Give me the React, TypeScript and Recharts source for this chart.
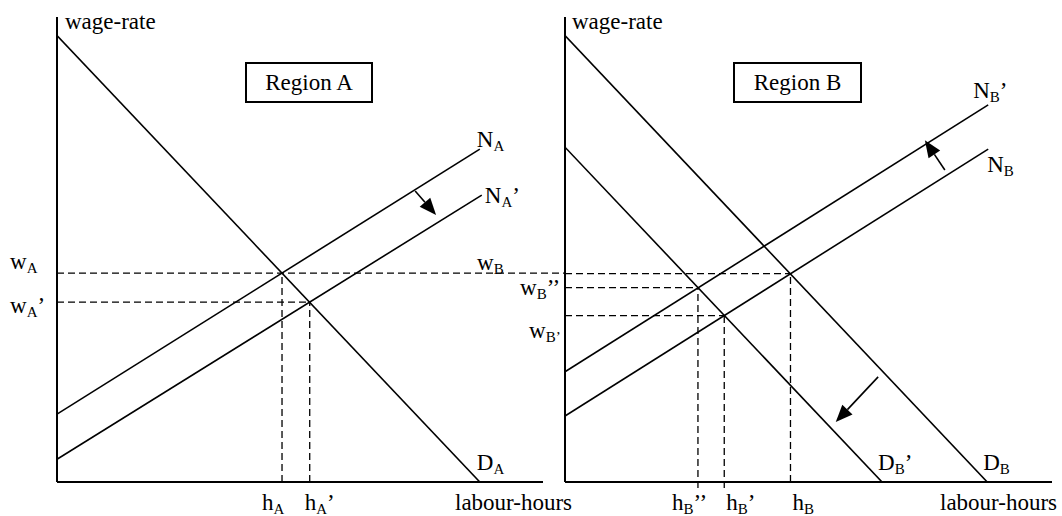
import React from 'react';
import { LineChart, Line, XAxis, YAxis, ReferenceLine, ReferenceDot } from 'recharts';

const FONT = '"Liberation Serif", "Times New Roman", Times, serif';

// both panels: x = labour-hours 0-100, y = wage-rate 0-100
const demandA = [{ x: 0, y: 96 }, { x: 87, y: 0 }];
const supplyA = [{ x: 0, y: 14.6 }, { x: 87, y: 71.6 }];
const supplyA2 = [{ x: 0, y: 4.9 }, { x: 87.4, y: 61.7 }];

const demandB = [{ x: 0, y: 96 }, { x: 86.7, y: 0 }];
const demandB2 = [{ x: 0, y: 72 }, { x: 65.1, y: 0 }];
const supplyB = [{ x: 0, y: 14.2 }, { x: 86.9, y: 71.6 }];
const supplyB2 = [{ x: 0, y: 23.7 }, { x: 86.9, y: 81.1 }];

// equilibria: [original, after shift]
const hoursA = [46.3, 52.0];
const wagesA = [44.9, 38.7];
// [hB, hB', hB'']
const hoursB = [46.3, 32.7, 27.3];
const wagesB = [44.8, 35.8, 41.8];

// shift arrows (from, to)
const arrowA = [{ x: 73.7, y: 62.6 }, { x: 78.0, y: 57.4 }];
const arrowSupplyB = [{ x: 78.0, y: 67.1 }, { x: 73.9, y: 73.5 }];
const arrowDemandB = [{ x: 64.3, y: 22.6 }, { x: 55.6, y: 12.9 }];

// dashed wage line of region A runs on into region B
const wageLineEnd = 104.5;

const Sub = ({ x, y, base, sub, tail, low }: any) => (
  <text x={x} y={y} fontFamily={FONT} fontSize={23} fill="#000">
    {base}
    {sub && <tspan dy={4} fontSize={15}>{sub}</tspan>}
    {tail && (low ? <tspan fontSize={15}>{tail}</tspan> : <tspan dy={-4}>{tail}</tspan>)}
  </text>
);

const tag = (base: string, sub: string, tail: string, dx: number, dy: number, low = false) =>
  (p: any) => <Sub x={p.cx + dx} y={p.cy + dy} base={base} sub={sub} tail={tail} low={low} />;

const plain = (txt: string, dx: number, dy: number) =>
  (p: any) => <text x={p.cx + dx} y={p.cy + dy} fontFamily={FONT} fontSize={23} fill="#000">{txt}</text>;

const arrowShape = (p: any) => {
  const { x1, y1, x2, y2 } = p;
  const a = Math.atan2(y2 - y1, x2 - x1);
  const len = 17, half = 7;
  const bx = x2 - len * Math.cos(a), by = y2 - len * Math.sin(a);
  const px = -Math.sin(a) * half, py = Math.cos(a) * half;
  return (
    <g>
      <line x1={x1} y1={y1} x2={bx} y2={by} stroke="#000" strokeWidth={1.6} />
      <polygon points={`${x2},${y2} ${bx + px},${by + py} ${bx - px},${by - py}`} fill="#000" />
    </g>
  );
};

const dash = { stroke: '#000', strokeWidth: 1.3, strokeDasharray: '7 4', ifOverflow: 'visible' as const };

const curve = (data: any[], key: string) => (
  <Line key={key} data={data} dataKey="y" type="linear" stroke="#000" strokeWidth={1.6}
    dot={false} activeDot={false} isAnimationActive={false} />
);

const axisX = (
  <XAxis type="number" dataKey="x" domain={[0, 100]} allowDataOverflow height={1}
    tick={false} tickLine={false} axisLine={{ stroke: '#000', strokeWidth: 2 }} />
);
const axisY = (
  <YAxis type="number" domain={[0, 100]} allowDataOverflow width={1}
    tick={false} tickLine={false} axisLine={{ stroke: '#000', strokeWidth: 2 }} />
);

const boxStyle: React.CSSProperties = {
  position: 'absolute', top: 62, height: 37, border: '2px solid #000', background: '#fff',
  fontFamily: FONT, fontSize: 23, lineHeight: '37px', textAlign: 'center',
};

export default function App() {
  return (
    <div style={{ position: 'absolute', left: 0, top: 0, width: 1062, height: 516, background: '#fff', overflow: 'hidden' }}>
      <div style={{ position: 'absolute', left: 0, top: 0 }}>
        <LineChart width={585} height={516} margin={{ top: 17, right: 42, bottom: 33, left: 56 }}>
          {axisX}
          {axisY}
          <ReferenceLine segment={[{ x: 0, y: wagesA[0] }, { x: wageLineEnd, y: wagesA[0] }]} {...dash} />
          <ReferenceLine segment={[{ x: 0, y: wagesA[1] }, { x: hoursA[1], y: wagesA[1] }]} {...dash} />
          <ReferenceLine segment={[{ x: hoursA[0], y: 0 }, { x: hoursA[0], y: wagesA[0] }]} {...dash} />
          <ReferenceLine segment={[{ x: hoursA[1], y: 0 }, { x: hoursA[1], y: wagesA[1] }]} {...dash} />
          {curve(demandA, 'da')}
          {curve(supplyA, 'na')}
          {curve(supplyA2, 'na2')}
          <ReferenceLine segment={arrowA} ifOverflow="visible" shape={arrowShape} />
          <ReferenceDot x={0} y={100} r={0} ifOverflow="visible" shape={plain('wage-rate', 8, 12)} />
          <ReferenceDot x={100} y={0} r={0} ifOverflow="visible" shape={plain('labour-hours', -88, 28)} />
          <ReferenceDot x={0} y={wagesA[0]} r={0} ifOverflow="visible" shape={tag('w', 'A', '', -47, -4)} />
          <ReferenceDot x={0} y={wagesA[1]} r={0} ifOverflow="visible" shape={tag('w', 'A', '’', -47, 11)} />
          <ReferenceDot x={hoursA[0]} y={0} r={0} ifOverflow="visible" shape={tag('h', 'A', '', -20, 28)} />
          <ReferenceDot x={hoursA[1]} y={0} r={0} ifOverflow="visible" shape={tag('h', 'A', '’', -5, 28)} />
          <ReferenceDot x={demandA[1].x} y={demandA[1].y} r={0} ifOverflow="visible" shape={tag('D', 'A', '', -3, -12)} />
          <ReferenceDot x={supplyA[1].x} y={supplyA[1].y} r={0} ifOverflow="visible" shape={tag('N', 'A', '', -3, -2)} />
          <ReferenceDot x={supplyA2[1].x} y={supplyA2[1].y} r={0} ifOverflow="visible" shape={tag('N', 'A', '’', 3, 8)} />
        </LineChart>
      </div>
      <div style={{ position: 'absolute', left: 460, top: 0 }}>
        <LineChart width={602} height={516} margin={{ top: 17, right: 10, bottom: 33, left: 104 }}>
          {axisX}
          {axisY}
          <ReferenceLine segment={[{ x: 0, y: wagesB[0] }, { x: hoursB[0], y: wagesB[0] }]} {...dash} />
          <ReferenceLine segment={[{ x: 0, y: wagesB[1] }, { x: hoursB[1], y: wagesB[1] }]} {...dash} />
          <ReferenceLine segment={[{ x: 0, y: wagesB[2] }, { x: hoursB[2], y: wagesB[2] }]} {...dash} />
          <ReferenceLine segment={[{ x: hoursB[0], y: 0 }, { x: hoursB[0], y: wagesB[0] }]} {...dash} />
          <ReferenceLine segment={[{ x: hoursB[1], y: -1.3 }, { x: hoursB[1], y: wagesB[1] }]} {...dash} />
          <ReferenceLine segment={[{ x: hoursB[2], y: -1.3 }, { x: hoursB[2], y: wagesB[2] }]} {...dash} />
          {curve(demandB, 'db')}
          {curve(demandB2, 'db2')}
          {curve(supplyB, 'nb')}
          {curve(supplyB2, 'nb2')}
          <ReferenceLine segment={arrowSupplyB} ifOverflow="visible" shape={arrowShape} />
          <ReferenceLine segment={arrowDemandB} ifOverflow="visible" shape={arrowShape} />
          <ReferenceDot x={0} y={100} r={0} ifOverflow="visible" shape={plain('wage-rate', 7, 12)} />
          <ReferenceDot x={100} y={0} r={0} ifOverflow="visible" shape={plain('labour-hours', -112, 28)} />
          <ReferenceDot x={0} y={wagesB[0]} r={0} ifOverflow="visible" shape={tag('w', 'B', '', -88, -4)} />
          <ReferenceDot x={0} y={wagesB[2]} r={0} ifOverflow="visible" shape={tag('w', 'B', '’’', -45, 7)} />
          <ReferenceDot x={0} y={wagesB[1]} r={0} ifOverflow="visible" shape={tag('w', 'B', '’', -36, 22, true)} />
          <ReferenceDot x={hoursB[0]} y={0} r={0} ifOverflow="visible" shape={tag('h', 'B', '', 2, 28)} />
          <ReferenceDot x={hoursB[1]} y={0} r={0} ifOverflow="visible" shape={tag('h', 'B', '’', 2, 28)} />
          <ReferenceDot x={hoursB[2]} y={0} r={0} ifOverflow="visible" shape={tag('h', 'B', '’’', -26, 28)} />
          <ReferenceDot x={demandB2[1].x} y={demandB2[1].y} r={0} ifOverflow="visible" shape={tag('D', 'B', '’', -4, -12)} />
          <ReferenceDot x={demandB[1].x} y={demandB[1].y} r={0} ifOverflow="visible" shape={tag('D', 'B', '', -4, -12)} />
          <ReferenceDot x={supplyB2[1].x} y={supplyB2[1].y} r={0} ifOverflow="visible" shape={tag('N', 'B', '’', -15, -7)} />
          <ReferenceDot x={supplyB[1].x} y={supplyB[1].y} r={0} ifOverflow="visible" shape={tag('N', 'B', '', -1, 23)} />
        </LineChart>
      </div>
      <div style={{ ...boxStyle, left: 245, width: 124 }}>Region A</div>
      <div style={{ ...boxStyle, left: 733, width: 125 }}>Region B</div>
    </div>
  );
}
